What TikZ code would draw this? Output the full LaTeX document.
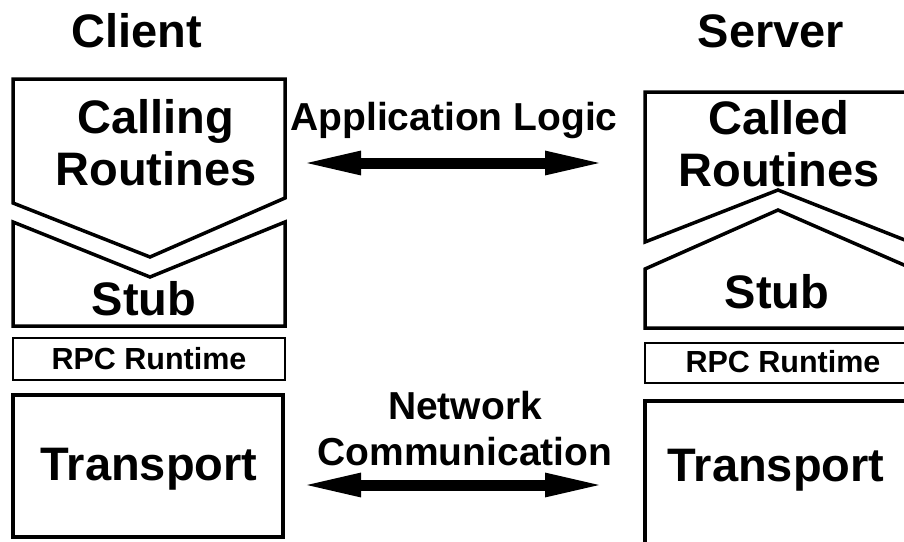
\documentclass[tikz,border=0pt]{standalone}
\usepackage{fontspec}
\setmainfont{Liberation Sans}
\usetikzlibrary{arrows.meta}

\tikzset{
    layer/.style={line width=3.5pt, line join=miter},
    thinlayer/.style={line width=2pt},
    bigtxt/.style={inner sep=0pt, anchor=base, align=center, font=\fontsize{47}{52}\selectfont\bfseries},
    midtxt/.style={inner sep=0pt, anchor=base, align=center, font=\fontsize{39}{46}\selectfont\bfseries},
    smalltxt/.style={inner sep=0pt, anchor=base, font=\fontsize{30.5}{34}\selectfont\bfseries},
    flow/.style={line width=11pt, {Triangle[length=63pt,width=21pt]}-{Triangle[length=63pt,width=21pt]}}
}

\begin{document}
\begin{tikzpicture}[x=1pt, y=-1pt]
        \useasboundingbox (0, 0) rectangle (904, 541);
        \clip (0, 0) rectangle (904, 541);

        % Client side
        \draw[layer] (13, 79) -- (285, 79) -- (285, 198) -- (150, 257) -- (13, 203) -- cycle;
        \draw[layer] (13, 222) -- (150, 277) -- (285, 222) -- (285, 326) -- (13, 326) -- cycle;
        \draw[thinlayer] (13, 338) rectangle (285, 380);
        \draw[layer] (13, 395) rectangle (283, 537);

        % Server side (runs off the right edge)
        \draw[layer] (920, 92) -- (645, 92) -- (645, 242) -- (778, 190) -- (920, 246);
        \draw[layer] (920, 272) -- (778, 210) -- (645, 269) -- (645, 328) -- (920, 328);
        \draw[thinlayer] (920, 343) -- (645, 343) -- (645, 383) -- (920, 383);
        \draw[layer] (920, 401) -- (645, 401) -- (645, 560);

        % Labels (multi-line ones sit on their last baseline)
        \node[bigtxt] (client) at (137, 47) {Client};
        \node[bigtxt] (server) at (771, 47) {Server};
        \node[bigtxt] (calling) at (156, 185) {Calling\\Routines};
        \node[bigtxt] (stubL) at (144, 315) {Stub};
        \node[smalltxt] (rpcL) at (149, 369) {RPC Runtime};
        \node[bigtxt] (transL) at (149, 480) {Transport};
        \node[bigtxt] (called) at (779, 186) {Called\\Routines};
        \node[bigtxt] (stubR) at (777, 308) {Stub};
        \node[smalltxt] (rpcR) at (783, 372) {RPC Runtime};
        \node[bigtxt] (transR) at (776, 481) {Transport};
        \node[midtxt] (applogic) at (454, 130) {Application Logic};
        \node[midtxt] (netcomm) at (465, 465) {Network\\Communication};

        % Arrows between the peers
        \coordinate (appL) at (298, 163);
        \coordinate (appR) at (608, 163);
        \coordinate (netL) at (298, 485);
        \coordinate (netR) at (608, 485);
        \draw[flow] (appL) -- (appR);
        \draw[flow] (netL) -- (netR);
    \end{tikzpicture}
\end{document}
